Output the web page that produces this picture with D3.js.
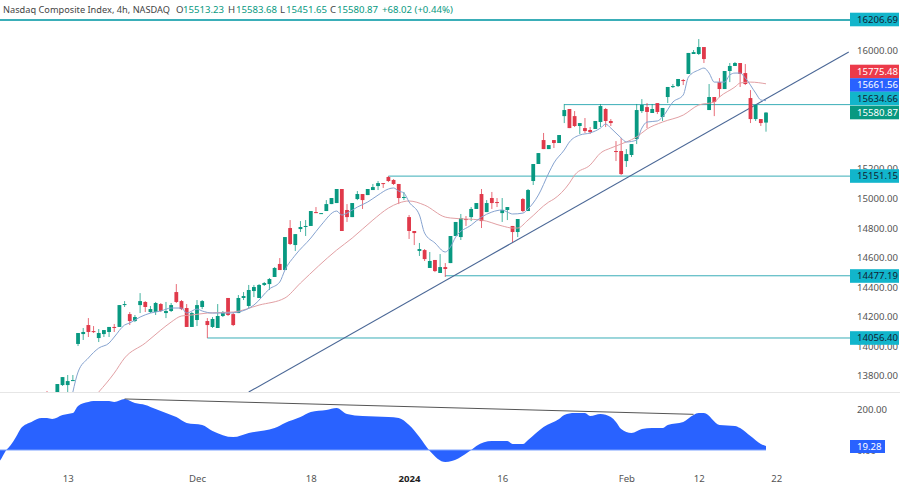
<!DOCTYPE html>
<html>
<head>
<meta charset="utf-8">
<script src="https://cdn.jsdelivr.net/npm/d3@7"></script>
<style>
  html, body { margin: 0; background: #fff; }
  svg { display: block; font-family: "Noto Sans", sans-serif; }
</style>
</head>
<body>
<div id="chart"></div>
<script>
const opens = [13691,13637,13691,13738,13738,13765,14016,14083,14144,14103,14056,14083,14097,14131,14131,14279,14218,14171,14279,14300,
  14232,14232,14286,14225,14239,14367,14306,14259,14131,14178,14266,14171,14131,14124,14205,14327,14218,14225,14327,14273,
  14374,14327,14415,14421,14469,14557,14516,14800,14685,14793,14807,14814,14908,14895,14915,14962,14969,15064,14922,14874,
  14996,15030,15023,15057,15084,15104,15145,15125,15098,15003,14874,14780,14645,14651,14530,14584,14496,14536,14563,14746,
  14739,14861,14874,14929,15030,14908,15003,14976,14901,14922,14814,14773,14996,14915,15118,15233,15395,15334,15395,15375,
  15557,15605,15557,15490,15476,15463,15470,15517,15605,15524,15321,15321,15253,15294,15402,15591,15618,15578,15645,15551,
  15686,15757,15760,15801,15842,15977,15977,16024,15598,15686,15787,15740,15862,15896,15916,15848,15679,15537,15537,15513.23];
const highs = [13698,13684,13745,13792,13806,13806,14090,14124,14191,14137,14117,14110,14131,14151,14279,14306,14232,14212,14360,14306,
  14273,14300,14293,14300,14293,14421,14313,14286,14232,14313,14313,14191,14198,14286,14239,14327,14232,14347,14367,14415,
  14415,14421,14435,14462,14536,14597,14739,14854,14759,14847,14854,14915,14942,14901,14989,15003,15064,15064,14962,14969,
  15050,15030,15064,15098,15118,15104,15152,15131,15098,15044,14888,14780,14699,14658,14638,14584,14624,14563,14746,14841,
  14895,14881,14942,14969,15064,14989,15044,15003,15003,14942,14814,14861,15003,15064,15233,15307,15443,15361,15395,15429,
  15639,15605,15591,15510,15544,15483,15524,15639,15612,15537,15388,15409,15334,15368,15639,15672,15645,15639,15645,15612,
  15754,15774,15808,15808,15984,16004,16078,16024,15774,15686,15814,15862,15916,15923,15916,15909,15733,15632,15537,15583.68];
const lows = [13657,13616,13671,13732,13684,13765,14002,14043,14063,14090,14029,14063,14063,14097,14131,14266,14144,14164,14225,14232,
  14225,14212,14232,14191,14232,14293,14245,14131,14131,14137,14252,14056,14124,14124,14198,14205,14137,14225,14313,14259,
  14333,14327,14408,14381,14469,14516,14516,14685,14645,14773,14746,14814,14901,14895,14915,14962,14969,14780,14841,14874,
  14989,14929,15023,15057,15057,15071,15111,15091,14962,14989,14726,14685,14611,14577,14530,14502,14496,14469,14563,14746,
  14719,14814,14847,14929,14800,14908,14929,14942,14841,14854,14705,14739,14908,14915,15091,15233,15334,15334,15341,15375,
  15510,15476,15483,15436,15443,15436,15470,15483,15483,15490,15253,15158,15213,15280,15368,15578,15476,15578,15571,15524,
  15645,15747,15754,15767,15842,15977,15970,15916,15598,15557,15686,15740,15787,15896,15754,15767,15510,15524,15490,15451.65];
const closes = [13677,13671,13745,13792,13765,13772,14090,14097,14097,14097,14090,14110,14131,14124,14279,14286,14171,14198,14306,14266,
  14252,14293,14239,14239,14279,14300,14252,14131,14225,14279,14306,14144,14185,14205,14232,14212,14144,14327,14340,14381,
  14401,14415,14428,14455,14530,14516,14739,14692,14759,14807,14814,14915,14901,14901,14962,15003,15064,14780,14874,14969,
  15030,14989,15064,15077,15104,15098,15118,15098,15003,15010,14780,14766,14658,14590,14577,14509,14536,14523,14746,14841,
  14868,14854,14929,14969,14847,14969,14969,14969,14922,14942,14773,14861,14915,15057,15233,15307,15334,15361,15375,15429,
  15598,15476,15490,15510,15456,15449,15524,15625,15524,15510,15314,15165,15300,15368,15598,15632,15585,15605,15585,15612,
  15754,15760,15808,15794,15984,15990,16024,15943,15686,15652,15740,15862,15896,15916,15842,15774,15537,15632,15510,15580.87];

const fastMaBars = [5,6,8,10,12,13,15,16,18,20,22,24,26,27,29,30,32,35,37,40,43,45,46,48,51,53,56,57,58,60,62,64,66,67,68,69,70,72,73,75,77,78,79,82,84,86,88,89,90,92,93,95,97,98,100,101,103,105,107,108,109,111,112,114,115,116,118,119,121,123,124,126,127,128,129,131,132,133,134,135,137,138,139];
const fastMaValues = [13691,13826,13921,13988,14022,14063,14144,14158,14198,14225,14239,14259,14259,14225,14252,14239,14225,14225,14232,14279,14388,14435,14516,14617,14732,14820,14915,14888,14901,14942,14976,15023,15064,15071,15050,15037,14976,14888,14766,14699,14638,14672,14739,14820,14874,14908,14922,14908,14895,14901,14929,15023,15172,15240,15328,15382,15429,15443,15476,15503,15476,15409,15382,15395,15476,15517,15524,15551,15652,15700,15821,15869,15882,15848,15787,15787,15835,15848,15848,15815,15713,15666,15661.56];
const slowMaBars = [10,13,15,19,22,24,26,28,31,36,41,46,49,56,59,63,66,68,70,73,77,78,81,84,88,90,91,93,97,98,101,102,105,107,109,112,114,116,119,123,126,129,130,133,134,136,139];
const slowMaValues = [13691,13819,13921,14022,14110,14164,14205,14212,14225,14232,14279,14327,14428,14651,14732,14854,14935,14969,14983,14955,14874,14868,14861,14854,14814,14800,14800,14854,14976,14996,15104,15158,15226,15307,15341,15382,15416,15470,15517,15564,15632,15652,15686,15754,15781,15787,15775.48];

const oscBars = [-10,-9,-8,-7,-6,-5,-3,-1,0,1,3,4,5,6,8,9,12,13,15,17,19,21,24,25,27,30,32,36,39,44,46,49,51,54,56,58,61,66,68,70,72,74,77,82,83,86,89,90,92,93,96,99,100,102,104,105,107,109,110,111,113,115,117,119,120,123,125,126,127,130,133,134,136,138,139];
const oscValues = [-70,-49,-5,24,63,107,137,156,156,151,171,176,180,215,234,239,239,234,249,229,220,200,171,161,132,122,93,63,83,107,132,161,185,195,205,176,166,161,156,122,63,-5,-59,0,20,44,44,29,29,49,112,151,171,180,180,166,176,161,137,102,83,102,107,107,122,137,171,180,180,122,117,107,68,29,19.28];

// horizontal levels: price and the bar they start from
const levelPrices = [16206.69, 15634.66, 15151.15, 14477.19, 14056.40];
const levelStartBars = [-10, 100, 66, 77, 31];
const trendBars = [39, 155];
const trendPrices = [13691, 15990];
const oscTrendBars = [15, 125];
const oscTrendValues = [249, 174];

const priceTicks = [16000, 15200, 15000, 14800, 14600, 14400, 14200, 14000, 13800];
const timeTickBars = [4, 29, 51, 70, 88, 112, 126, 141];
const timeTickLabels = ['13', 'Dec', '18', '2024', '16', 'Feb', '12', '22'];

const width = 900;
const height = 488;
const axisX = 850;
const paneBottom = 392;
const green = '#089981';
const red = '#e0394a';
const levelColor = '#3aaeb8';
const tagColor = '#12b5cb';

const svg = d3.select('#chart').append('svg').attr('width', width).attr('height', height);

const x = d3.scaleLinear().domain([0, 139]).range([47, 766]);
const y = d3.scaleLinear().domain([13800, 16000]).range([375.9, 50.6]);
const yOsc = d3.scaleLinear().domain([0, 200]).range([450, 409]);

svg.append('clipPath').attr('id', 'price-clip').append('rect')
  .attr('width', axisX).attr('height', paneBottom);
svg.append('clipPath').attr('id', 'osc-clip').append('rect')
  .attr('y', paneBottom).attr('width', axisX).attr('height', height - paneBottom);

svg.append('line').attr('x1', 0).attr('x2', width).attr('y1', paneBottom + 0.5).attr('y2', paneBottom + 0.5)
  .attr('stroke', '#e6e6e6');

const pricePane = svg.append('g').attr('clip-path', 'url(#price-clip)');

// levels and the rising trend line sit under the candles
levelPrices.forEach((price, i) => {
  pricePane.append('line')
    .attr('x1', x(levelStartBars[i])).attr('x2', axisX)
    .attr('y1', y(price)).attr('y2', y(price))
    .attr('stroke', levelColor)
    .attr('stroke-width', i === 0 ? 2 : 1);
});

pricePane.append('line')
  .attr('x1', x(trendBars[0])).attr('y1', y(trendPrices[0]))
  .attr('x2', x(trendBars[1])).attr('y2', y(trendPrices[1]))
  .attr('stroke', '#4a6796')
  .attr('stroke-width', 1.1);

const candles = pricePane.append('g').selectAll('g')
  .data(d3.range(opens.length))
  .enter()
  .append('g')
  .attr('fill', (i) => (closes[i] >= opens[i] ? green : red))
  .attr('stroke', (i) => (closes[i] >= opens[i] ? green : red));

candles.append('line')
  .attr('x1', (i) => x(i)).attr('x2', (i) => x(i))
  .attr('y1', (i) => y(highs[i])).attr('y2', (i) => y(lows[i]))
  .attr('stroke-width', 1)
  .attr('stroke-opacity', 0.75);

candles.append('rect')
  .attr('x', (i) => x(i) - 1.9)
  .attr('width', 3.8)
  .attr('y', (i) => y(Math.max(opens[i], closes[i])))
  .attr('height', (i) => Math.max(1, Math.abs(y(opens[i]) - y(closes[i]))))
  .attr('stroke', 'none');

const maLine = d3.line().x((d) => x(d[0])).y((d) => y(d[1])).curve(d3.curveMonotoneX);

pricePane.append('path')
  .attr('d', maLine(d3.zip(slowMaBars, slowMaValues)))
  .attr('fill', 'none')
  .attr('stroke', '#e2a0a4')
  .attr('stroke-width', 1);

pricePane.append('path')
  .attr('d', maLine(d3.zip(fastMaBars, fastMaValues)))
  .attr('fill', 'none')
  .attr('stroke', '#86a3d0')
  .attr('stroke-width', 1);

// oscillator pane
const oscPane = svg.append('g').attr('clip-path', 'url(#osc-clip)');
const oscArea = d3.area()
  .x((d) => x(d[0]))
  .y0(yOsc(0))
  .y1((d) => yOsc(d[1]))
  .curve(d3.curveMonotoneX);

oscPane.append('path')
  .attr('d', oscArea(d3.zip(oscBars, oscValues)))
  .attr('fill', '#2962ff');

oscPane.append('line')
  .attr('x1', 0).attr('x2', x(139))
  .attr('y1', yOsc(0)).attr('y2', yOsc(0))
  .attr('stroke', '#7da2ff');

oscPane.append('line')
  .attr('x1', x(oscTrendBars[0])).attr('y1', yOsc(oscTrendValues[0]))
  .attr('x2', x(oscTrendBars[1])).attr('y2', yOsc(oscTrendValues[1]))
  .attr('stroke', '#555')
  .attr('stroke-width', 1);

// axes
const priceAxis = svg.append('g')
  .attr('transform', `translate(${axisX},0)`)
  .call(d3.axisRight(y).tickValues(priceTicks).tickSize(0).tickPadding(7).tickFormat(d3.format('.2f')));
const oscAxis = svg.append('g')
  .attr('transform', `translate(${axisX},0)`)
  .call(d3.axisRight(yOsc).tickValues([200, 0]).tickSize(0).tickPadding(7).tickFormat(d3.format('.2f')));
const timeAxis = svg.append('g')
  .attr('transform', 'translate(0,475)')
  .call(d3.axisBottom(x).tickValues(timeTickBars).tickSize(0).tickPadding(0)
    .tickFormat((d, i) => timeTickLabels[i]));

[priceAxis, oscAxis, timeAxis].forEach((axis) => {
  axis.select('.domain').remove();
  axis.selectAll('text').attr('fill', '#555').attr('font-size', 9.6).attr('font-family', '"Noto Sans", sans-serif');
});
timeAxis.selectAll('text')
  .attr('font-weight', (d, i) => (timeTickLabels[i] === '2024' ? 700 : 400))
  .attr('fill', (d, i) => (timeTickLabels[i] === '2024' ? '#222' : '#555'));

// price tags on the axis
const tagLabels = ['16206.69', '15775.48', '15661.56', '15634.66', '15580.87', '15151.15', '14477.19', '14056.40'];
const tagCenters = [19.5, 71.5, 85, 98.5, 112.5, 176, 276, 338];
const tagFills = [tagColor, '#ec3a4a', '#2962ff', tagColor, green, tagColor, tagColor, tagColor];
const tagInks = ['#123', '#fff', '#fff', '#123', '#fff', '#123', '#123', '#123'];

tagLabels.forEach((label, i) => {
  svg.append('rect')
    .attr('x', axisX).attr('y', tagCenters[i] - 6.8)
    .attr('width', 49).attr('height', 13.6)
    .attr('fill', tagFills[i]);
  svg.append('text')
    .attr('x', axisX + 7).attr('y', tagCenters[i] + 3.4)
    .attr('font-size', 9.6)
    .attr('fill', tagInks[i])
    .text(label);
});

svg.append('rect')
  .attr('x', axisX).attr('y', 440).attr('width', 35).attr('height', 13)
  .attr('fill', '#2962ff');
svg.append('text')
  .attr('x', axisX + 7).attr('y', 450)
  .attr('font-size', 9.6)
  .attr('fill', '#fff')
  .text('19.28');

// header line
const headerTexts = ['Nasdaq Composite Index, 4h, NASDAQ', 'O', '15513.23', 'H', '15583.68', 'L', '15451.65', 'C', '15580.87', '+68.02 (+0.44%)'];
const headerX = [3, 176, 183, 228, 236, 280, 286, 330, 337, 382];
headerTexts.forEach((label, i) => {
  const dark = i === 0 || (i % 2 === 1 && i < 9);
  const header = svg.append('text')
    .attr('x', headerX[i]).attr('y', 13)
    .attr('font-size', i === 0 ? 9.2 : 9.6)
    .attr('fill', dark ? '#444' : green)
    .text(label);
  if (i === 0) header.attr('textLength', 167);
});
</script>
</body>
</html>
